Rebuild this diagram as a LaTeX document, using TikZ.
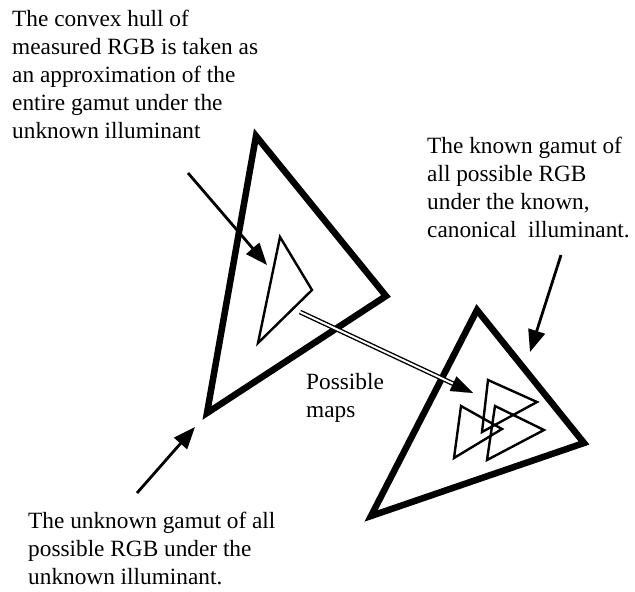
\documentclass[tikz,border=0pt]{standalone}
\usepackage{fontspec}
\setmainfont{Liberation Serif}
\usetikzlibrary{arrows.meta,calc}
\begin{document}
\begin{tikzpicture}[x=1pt,y=-1pt,
  bigtri/.style={line width=6.5pt,line join=miter},
  smalltri/.style={line width=2.4pt,line join=miter},
  pointer/.style={line width=2.8pt,-{Triangle[length=22pt,width=17pt]}},
  label/.style={anchor=north west,inner sep=0pt,align=left,font=\fontsize{23.3}{28}\selectfont}]
\useasboundingbox (0,0) rectangle (635,592);
% left big triangle
\coordinate (A1) at (256,136);
\coordinate (A2) at (386,296);
\coordinate (A3) at (207,413);
\draw[bigtri] (A1) -- (A2) -- (A3) -- cycle;
% small triangle inside
\coordinate (a1) at (280,237);
\coordinate (a2) at (312,290);
\coordinate (a3) at (258,343);
\draw[smalltri] (a1) -- (a2) -- (a3) -- cycle;
% right big triangle
\coordinate (B1) at (477,310);
\coordinate (B2) at (584,443);
\coordinate (B3) at (371,516);
\draw[bigtri] (B1) -- (B2) -- (B3) -- cycle;
% small triangles inside right
\coordinate (p1) at (488,380);
\coordinate (p2) at (537,402);
\coordinate (p3) at (482,432);
\draw[smalltri] (p1) -- (p2) -- (p3) -- cycle;
\coordinate (q1) at (461,406);
\coordinate (q2) at (502,429);
\coordinate (q3) at (454,458);
\draw[smalltri] (q1) -- (q2) -- (q3) -- cycle;
\coordinate (r1) at (495,406);
\coordinate (r2) at (544,430);
\coordinate (r3) at (487,460);
\draw[smalltri] (r1) -- (r2) -- (r3) -- cycle;
% texts
\node[label] (t1) at (12,9.5) {The convex hull of\\measured RGB is taken as\\an approximation of the\\entire gamut under the\\unknown illuminant};
\node[label] (t2) at (427,136.5) {The known gamut of\\all possible RGB\\under the known,\\canonical~ illuminant.};
\node[label] (t3) at (28,511.5) {The unknown gamut of all\\possible RGB under the\\unknown illuminant.};
\node[label] (t4) at (306,373.5) {Possible\\maps};
% arrows
\coordinate (s1) at (188,173);
\coordinate (e1) at (267,265);
\draw[pointer] (s1) -- (e1);
\coordinate (s2) at (137,493);
\coordinate (e2) at (195,427);
\draw[pointer] (s2) -- (e2);
\coordinate (s3) at (561,255);
\coordinate (e3) at (530,352);
\draw[pointer] (s3) -- (e3);
% double arrow (possible maps)
\coordinate (s4) at (300,312);
\coordinate (e4) at (473,393);
\coordinate (h4) at ($(e4)!22pt!(s4)$);
\draw[line width=1.4pt,double=white,double distance=2pt] (s4) -- ($(e4)!18pt!(s4)$);
\draw[line width=0.1pt,-{Triangle[length=22pt,width=16pt]}] (h4) -- (e4);
\end{tikzpicture}
\end{document}
